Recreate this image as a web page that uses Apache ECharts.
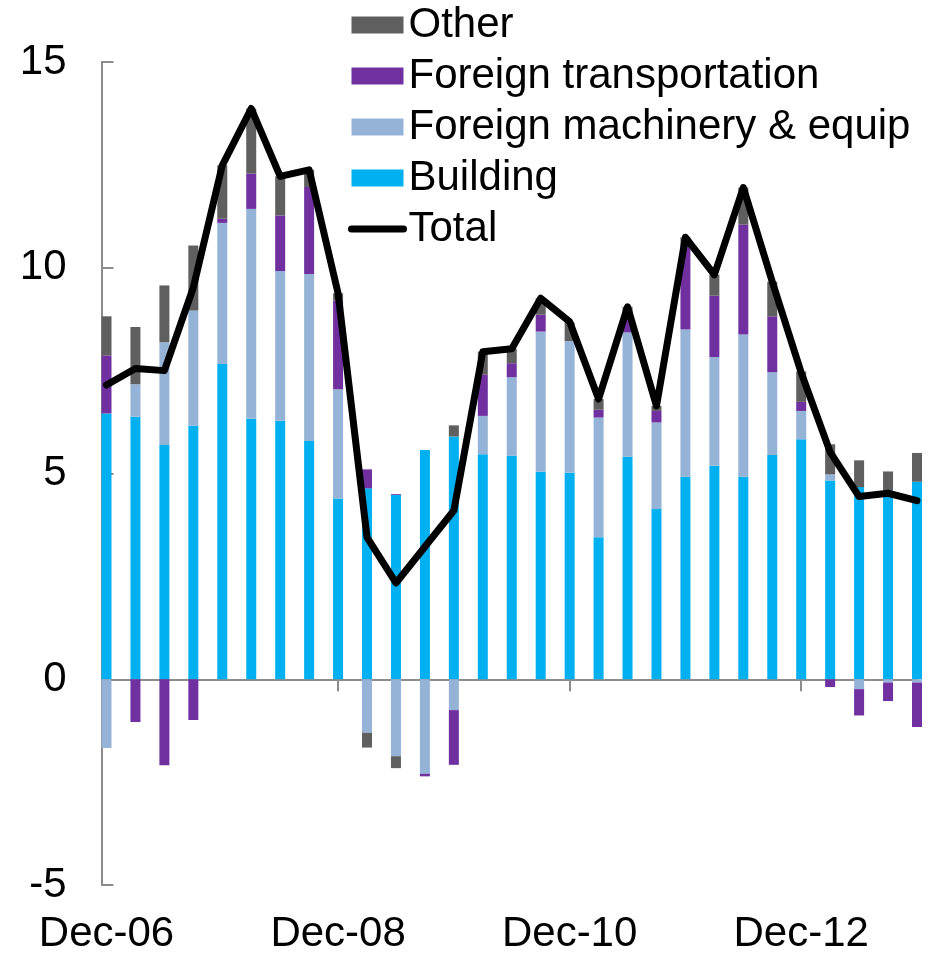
<!DOCTYPE html>
<html>
<head>
<meta charset="UTF-8">
<title>investment contributions</title>
<script src="https://cdn.jsdelivr.net/npm/echarts@6/dist/echarts.min.js"></script>
<style>
	html, body { margin:0; padding:0; background:#fff; }
	#chart-div { width:929px; height:957px; }
</style>
</head>
<body>
	<div id="chart-div"></div>

	<script type="text/javascript">
		// quarters, Dec-06 .. Dec-13
		var quarters = ['Dec-06','Mar-07','Jun-07','Sep-07','Dec-07','Mar-08','Jun-08','Sep-08',
			'Dec-08','Mar-09','Jun-09','Sep-09','Dec-09','Mar-10','Jun-10','Sep-10',
			'Dec-10','Mar-11','Jun-11','Sep-11','Dec-11','Mar-12','Jun-12','Sep-12',
			'Dec-12','Mar-13','Jun-13','Sep-13','Dec-13'];

		var building = [6.46, 6.38, 5.69, 6.16, 7.66, 6.33, 6.28, 5.79,
			4.39, 4.64, 4.48, 5.57, 5.90, 5.47, 5.43, 5.04,
			5.02, 3.45, 5.41, 4.14, 4.92, 5.19, 4.92, 5.45,
			5.83, 4.83, 4.67, 4.59, 4.80];
		var machinery = [-1.67, 0.79, 2.50, 2.80, 3.43, 5.10, 3.64, 4.06,
			2.66, -1.30, -1.87, -2.30, -0.75, 0.93, 1.91, 3.41,
			3.20, 2.91, 3.02, 2.10, 3.58, 2.64, 3.46, 2.01,
			0.69, 0.15, -0.24, -0.08, -0.08];
		var transport = [1.41, -1.04, -2.09, -0.99, 0.10, 0.86, 1.35, 2.11,
			2.15, 0.46, 0.02, -0.06, -1.33, 1.00, 0.34, 0.41,
			0.00, 0.19, 0.30, 0.28, 2.04, 1.49, 2.67, 1.36,
			0.22, -0.19, -0.64, -0.45, -1.08];
		var other = [0.95, 1.39, 1.38, 1.58, 1.30, 1.58, 0.95, 0.42,
			0.18, -0.36, -0.29, 0.00, 0.27, 0.56, 0.35, 0.40,
			0.45, 0.26, 0.32, 0.12, 0.20, 0.51, 0.90, 0.84,
			0.74, 0.73, 0.65, 0.46, 0.70];
		var total = [7.15, 7.55, 7.50, 9.52, 12.49, 13.87, 12.22, 12.38,
			9.38, 3.45, 2.34, 3.22, 4.10, 7.96, 8.03, 9.26,
			8.69, 6.81, 9.05, 6.64, 10.74, 9.83, 11.95, 9.66,
			7.45, 5.52, 4.44, 4.52, 4.34];

		var yTicks = [-5, 0, 5, 10, 15];

		var FONT = "'Liberation Sans', Arial, sans-serif";
		var AXIS_GREY = '#8c8c8c';

		window.onload = drawChart;

		function barSeries(name, data, color){
			return {
				name: name,
				type: 'bar',
				stack: 'parts',
				xAxisIndex: 0,
				barWidth: 10,
				clip: false,
				itemStyle: { color: color },
				data: data
			};
		}

		function drawChart(){
			var myChart = echarts.init(document.getElementById('chart-div'), null, { renderer: 'canvas' });

			var option = {
				backgroundColor: '#ffffff',
				animation: false,
				textStyle: { fontFamily: FONT },
				grid: { left: 106.5, right: 12, top: 62, bottom: 72, containLabel: false },
				legend: {
					orient: 'vertical',
					left: 348,
					top: 4,
					padding: 0,
					itemWidth: 52,
					itemHeight: 17,
					itemGap: 9,
					textStyle: { fontSize: 42, color: '#000', fontFamily: FONT, lineHeight: 42 },
					data: [
						{ name: 'Other', icon: 'rect' },
						{ name: 'Foreign transportation', icon: 'rect' },
						{ name: 'Foreign machinery & equip', icon: 'rect' },
						{ name: 'Building', icon: 'rect' },
						{ name: 'Total', itemStyle: { opacity: 0 }, lineStyle: { width: 7, color: '#000', cap: 'round' } }
					]
				},
				xAxis: [
					{
						// axis line sitting on zero, ticks downward
						type: 'category',
						data: quarters,
						boundaryGap: false,
						axisLine: { onZero: true, lineStyle: { color: AXIS_GREY, width: 2 } },
						axisTick: { show: true, interval: 7, length: 12, lineStyle: { color: AXIS_GREY, width: 2 } },
						axisLabel: { show: false },
						splitLine: { show: false }
					},
					{
						// upper half of the cross ticks
						type: 'category',
						data: quarters,
						boundaryGap: false,
						axisLine: { show: false, onZero: true, onZeroAxisIndex: 0 },
						axisTick: { show: true, inside: true, interval: 7, length: 12, lineStyle: { color: AXIS_GREY, width: 2 } },
						axisLabel: { show: false },
						splitLine: { show: false }
					},
					{
						// labels at the bottom of the plot
						type: 'category',
						data: quarters,
						boundaryGap: false,
						position: 'bottom',
						axisLine: { show: false, onZero: false },
						axisTick: { show: false },
						axisLabel: { interval: 7, fontSize: 42, color: '#000', fontFamily: FONT, margin: 28 },
						splitLine: { show: false }
					}
				],
				yAxis: {
					type: 'value',
					min: yTicks[0],
					max: yTicks[yTicks.length - 1],
					interval: 5,
					offset: 5,
					axisLine: { show: true, lineStyle: { color: AXIS_GREY, width: 2 } },
					axisTick: { show: true, inside: true, length: 12, lineStyle: { color: AXIS_GREY, width: 2 } },
					axisLabel: { fontSize: 42, color: '#000', fontFamily: FONT, margin: 35 },
					splitLine: { show: false }
				},
				series: [
					barSeries('Building', building, '#00b0f0'),
					barSeries('Foreign machinery & equip', machinery, '#95b3d7'),
					barSeries('Foreign transportation', transport, '#7030a0'),
					barSeries('Other', other, '#5f5f5f'),
					{
						name: 'Total',
						type: 'line',
						xAxisIndex: 0,
						data: total,
						symbol: 'none',
						clip: false,
						z: 5,
						lineStyle: { color: '#000', width: 7, join: 'round', cap: 'round' },
						itemStyle: { color: '#000' }
					}
				]
			};

			myChart.setOption(option);
		}
	</script>
</body>
</html>
